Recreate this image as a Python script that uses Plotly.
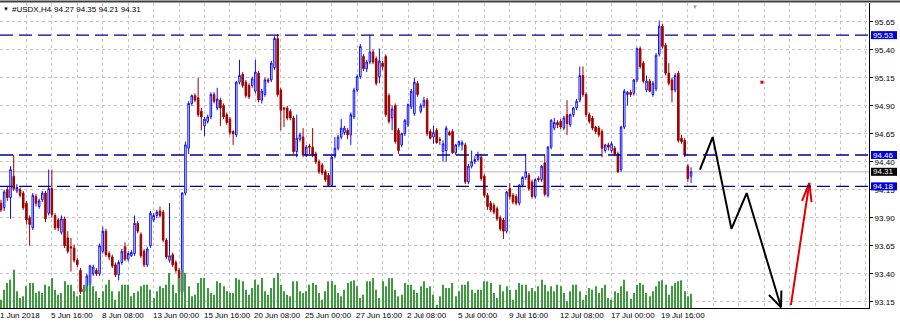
import plotly.graph_objects as go

# ---------------- data ----------------
open_ = [94.03, 93.99, 94.15, 94.08, 94.27, 94.14, 94.15, 94.12, 94.03, 93.90,
         93.81, 94.09, 94.00, 94.06, 94.12, 93.94, 94.16, 93.92, 93.88, 93.77,
         93.89, 93.72, 93.64, 93.63, 93.52, 93.43, 93.26, 93.24, 93.30, 93.40,
         93.43, 93.40, 93.60, 93.78, 93.58, 93.55, 93.48, 93.39, 93.50, 93.64,
         93.53, 93.56, 93.58, 93.85, 93.75, 93.60, 93.48, 93.65, 93.88, 93.92,
         93.96, 93.95, 93.70, 93.52, 93.57, 93.50, 93.43, 93.24, 94.12, 94.52,
         94.92, 94.99, 94.97, 94.85, 94.72, 94.76, 94.80, 95.00, 94.88, 94.95,
         94.90, 94.82, 94.78, 94.67, 94.64, 95.11, 95.18, 95.11, 95.08, 95.08,
         95.03, 95.19, 94.95, 95.00, 95.13, 95.13, 95.24, 95.50, 95.04, 94.88,
         94.88, 94.85, 94.79, 94.49, 94.60, 94.62, 94.46, 94.54, 94.53, 94.47,
         94.40, 94.37, 94.31, 94.28, 94.19, 94.45, 94.52, 94.62, 94.66, 94.68,
         94.64, 94.80, 95.04, 95.16, 95.34, 95.23, 95.29, 95.38, 95.32, 95.16,
         95.28, 95.34, 94.99, 94.79, 94.90, 94.68, 94.55, 94.65, 94.73, 94.89,
         94.83, 95.10, 94.85, 94.90, 94.95, 94.67, 94.62, 94.68, 94.60, 94.49,
         94.50, 94.66, 94.67, 94.48, 94.55, 94.55, 94.55, 94.22, 94.36, 94.40,
         94.42, 94.44, 94.27, 94.10, 94.03, 94.01, 93.98, 93.90, 93.88, 93.78,
         94.16, 94.10, 94.09, 94.03, 94.19, 94.26, 94.28, 94.22, 94.09, 94.25,
         94.24, 94.39, 94.10, 94.53, 94.70, 94.75, 94.76, 94.70, 94.82, 94.73,
         94.82, 94.88, 94.95, 95.17, 95.00, 94.82, 94.79, 94.71, 94.70, 94.67,
         94.50, 94.55, 94.50, 94.52, 94.47, 94.33, 94.71, 95.00, 95.02, 95.01,
         95.13, 95.41, 95.28, 95.04, 95.12, 95.00, 95.05, 95.36, 95.61, 95.44,
         95.19, 95.13, 95.04, 95.19, 94.61, 94.59, 94.36, 94.27]
high = [94.06, 94.15, 94.18, 94.36, 94.46, 94.20, 94.17, 94.14, 94.05, 93.92,
        94.12, 94.11, 94.07, 94.14, 94.14, 94.33, 94.33, 93.94, 93.90, 93.92,
        93.91, 93.78, 93.72, 93.66, 93.54, 93.45, 93.28, 93.40, 93.48, 93.48,
        93.45, 93.67, 93.82, 93.80, 93.60, 93.57, 93.50, 93.52, 93.62, 93.68,
        93.60, 93.61, 93.92, 93.87, 93.77, 93.62, 93.64, 93.96, 93.94, 93.97,
        94.00, 93.97, 93.72, 94.03, 93.59, 93.52, 93.45, 94.13, 94.58, 94.94,
        95.00, 95.01, 95.15, 94.88, 94.80, 94.82, 95.02, 95.02, 95.06, 94.97,
        94.92, 94.84, 94.80, 94.68, 95.12, 95.31, 95.20, 95.13, 95.10, 95.16,
        95.31, 95.21, 95.05, 95.15, 95.15, 95.30, 95.52, 95.54, 95.06, 94.89,
        94.90, 94.87, 94.81, 94.82, 94.66, 94.70, 94.55, 94.56, 94.70, 94.49,
        94.42, 94.39, 94.33, 94.30, 94.46, 94.62, 94.64, 94.78, 94.72, 94.70,
        94.84, 95.06, 95.18, 95.45, 95.36, 95.31, 95.53, 95.40, 95.34, 95.41,
        95.30, 95.36, 95.01, 94.90, 94.92, 94.70, 94.66, 94.78, 94.92, 95.05,
        95.15, 95.12, 94.92, 94.98, 94.97, 94.69, 94.72, 94.70, 94.62, 94.59,
        94.72, 94.68, 94.69, 94.56, 94.59, 94.59, 94.57, 94.38, 94.50, 94.45,
        94.49, 94.47, 94.29, 94.12, 94.05, 94.03, 94.00, 93.92, 93.90, 94.14,
        94.21, 94.12, 94.11, 94.20, 94.27, 94.47, 94.30, 94.24, 94.25, 94.27,
        94.37, 94.46, 94.54, 94.78, 94.79, 94.77, 94.78, 94.81, 94.95, 94.83,
        94.89, 94.96, 95.25, 95.25, 95.02, 94.84, 94.81, 94.72, 94.72, 94.69,
        94.56, 94.57, 94.58, 94.54, 94.49, 94.72, 95.05, 95.03, 95.04, 95.14,
        95.42, 95.43, 95.30, 95.17, 95.14, 95.12, 95.37, 95.66, 95.63, 95.46,
        95.28, 95.15, 95.19, 95.21, 94.64, 94.61, 94.38, 94.35]
low = [93.95, 93.96, 94.05, 93.89, 94.14, 94.12, 94.08, 93.97, 93.84, 93.65,
       93.79, 94.00, 93.98, 94.04, 93.86, 93.92, 93.90, 93.79, 93.78, 93.75,
       93.63, 93.58, 93.42, 93.50, 93.46, 93.22, 93.22, 93.22, 93.28, 93.38,
       93.38, 93.38, 93.58, 93.55, 93.52, 93.45, 93.37, 93.34, 93.48, 93.51,
       93.51, 93.55, 93.56, 93.76, 93.54, 93.46, 93.46, 93.63, 93.86, 93.90,
       93.90, 93.68, 93.53, 93.50, 93.46, 93.41, 93.22, 93.22, 94.10, 94.47,
       94.90, 94.93, 94.80, 94.68, 94.63, 94.74, 94.78, 94.92, 94.86, 94.72,
       94.78, 94.73, 94.64, 94.55, 94.62, 95.09, 95.06, 94.97, 94.96, 95.06,
       95.01, 94.93, 94.92, 94.98, 95.10, 95.11, 95.22, 94.98, 94.68, 94.71,
       94.77, 94.77, 94.47, 94.44, 94.58, 94.44, 94.44, 94.47, 94.44, 94.38,
       94.29, 94.28, 94.22, 94.18, 94.18, 94.43, 94.50, 94.60, 94.64, 94.60,
       94.55, 94.78, 95.02, 95.14, 95.21, 95.20, 95.27, 95.27, 95.08, 95.10,
       95.22, 94.80, 94.74, 94.68, 94.56, 94.47, 94.53, 94.63, 94.71, 94.87,
       94.81, 94.98, 94.83, 94.88, 94.63, 94.60, 94.56, 94.56, 94.55, 94.40,
       94.40, 94.63, 94.47, 94.46, 94.53, 94.50, 94.20, 94.20, 94.34, 94.38,
       94.40, 94.23, 94.08, 93.97, 93.95, 93.93, 93.87, 93.78, 93.71, 93.76,
       94.06, 94.02, 94.01, 94.01, 94.17, 94.24, 94.14, 94.07, 94.07, 94.22,
       94.22, 94.09, 94.08, 94.51, 94.68, 94.70, 94.69, 94.68, 94.64, 94.71,
       94.80, 94.86, 94.93, 94.98, 94.80, 94.74, 94.68, 94.65, 94.62, 94.44,
       94.48, 94.50, 94.48, 94.45, 94.30, 94.31, 94.69, 94.90, 94.98, 94.99,
       95.11, 95.23, 95.10, 95.02, 95.02, 94.98, 95.03, 95.34, 95.41, 95.17,
       95.08, 94.93, 95.02, 94.57, 94.56, 94.44, 94.22, 94.21]
close = [93.97, 94.13, 94.08, 94.33, 94.16, 94.17, 94.10, 93.99, 93.88, 93.84,
         94.10, 94.03, 94.05, 94.12, 93.89, 94.16, 93.93, 93.81, 93.81, 93.89,
         93.65, 93.60, 93.63, 93.52, 93.48, 93.24, 93.24, 93.38, 93.47, 93.46,
         93.40, 93.65, 93.78, 93.57, 93.55, 93.47, 93.39, 93.50, 93.60, 93.53,
         93.58, 93.59, 93.85, 93.78, 93.56, 93.48, 93.62, 93.94, 93.92, 93.95,
         93.92, 93.70, 93.55, 93.56, 93.48, 93.43, 93.24, 94.12, 94.55, 94.92,
         94.99, 94.95, 94.82, 94.80, 94.78, 94.80, 95.00, 94.94, 94.96, 94.88,
         94.80, 94.75, 94.66, 94.65, 95.11, 95.17, 95.08, 94.99, 94.98, 95.14,
         95.20, 94.95, 95.03, 95.13, 95.12, 95.28, 95.50, 95.00, 94.86, 94.87,
         94.79, 94.79, 94.49, 94.61, 94.64, 94.46, 94.53, 94.53, 94.46, 94.40,
         94.31, 94.30, 94.24, 94.19, 94.44, 94.52, 94.62, 94.70, 94.70, 94.64,
         94.82, 95.04, 95.16, 95.43, 95.23, 95.29, 95.38, 95.29, 95.10, 95.30,
         95.25, 94.82, 94.76, 94.87, 94.58, 94.50, 94.65, 94.77, 94.91, 95.03,
         95.11, 95.00, 94.90, 94.95, 94.65, 94.61, 94.66, 94.57, 94.59, 94.56,
         94.70, 94.64, 94.48, 94.55, 94.58, 94.57, 94.22, 94.36, 94.40, 94.42,
         94.45, 94.25, 94.10, 94.00, 93.97, 93.95, 93.89, 93.80, 93.78, 94.13,
         94.09, 94.04, 94.03, 94.19, 94.26, 94.31, 94.16, 94.09, 94.24, 94.24,
         94.36, 94.11, 94.53, 94.77, 94.75, 94.73, 94.71, 94.79, 94.74, 94.82,
         94.88, 94.94, 95.17, 95.00, 94.82, 94.76, 94.70, 94.67, 94.64, 94.52,
         94.55, 94.53, 94.56, 94.47, 94.31, 94.71, 95.03, 95.02, 95.00, 95.13,
         95.41, 95.25, 95.12, 95.12, 95.03, 95.10, 95.35, 95.61, 95.43, 95.19,
         95.10, 95.04, 95.17, 94.59, 94.58, 94.46, 94.25, 94.31]
volume = [25, 55, 75, 85, 115, 50, 30, 35, 65, 75,
          75, 45, 50, 45, 70, 65, 90, 55, 40, 45,
          80, 70, 70, 50, 35, 40, 70, 65, 75, 65,
          50, 30, 50, 70, 85, 50, 25, 50, 70, 70,
          70, 35, 45, 50, 65, 70, 70, 55, 30, 50,
          65, 60, 70, 105, 70, 45, 90, 115, 105, 65,
          35, 40, 75, 90, 90, 60, 45, 40, 80, 75,
          65, 50, 45, 45, 90, 85, 80, 55, 40, 60,
          85, 70, 90, 50, 40, 60, 90, 105, 70, 50,
          40, 35, 80, 80,
          50, 45, 50, 70, 75, 70, 45, 25, 50, 80,
          80, 70, 45, 35, 55, 75, 80, 83, 65, 30,
          40, 80, 80, 90, 55, 30, 80, 65, 90, 90,
          55, 35, 40, 75, 70, 70, 55, 45, 65, 80,
          60, 65, 40, 10, 35, 70, 60, 60, 75, 35,
          50, 70, 70, 80, 55, 45, 55, 55, 80, 80,
          75, 45, 30, 70, 50, 65, 55, 25, 55, 75,
          70, 70, 50, 60, 50, 65, 85, 70, 50, 65,
          50, 70, 65, 45, 20, 50, 70, 70, 50, 25,
          40, 60, 55, 65, 45,
          60, 70, 30, 25, 50, 45, 65, 85, 50, 28,
          45, 70, 75, 70, 45, 35, 50, 65, 80, 83,
          70, 40, 67, 75, 80, 83, 50, 35, 43]
bars = list(range(len(close)))

time_label_bars = [0, 16, 32, 48, 64, 80, 96, 112, 128, 144, 160, 176, 192, 208]
time_labels = ["1 Jun 2018", "5 Jun 16:00", "8 Jun 08:00", "13 Jun 00:00",
               "15 Jun 16:00", "20 Jun 08:00", "25 Jun 00:00", "27 Jun 16:00",
               "2 Jul 08:00", "5 Jul 00:00", "9 Jul 16:00", "12 Jul 08:00",
               "17 Jul 00:00", "19 Jul 16:00"]
grid_bars = [0, 8, 16, 24, 32, 40, 48, 56, 64, 72, 80, 88, 96, 104, 112, 120,
             128, 136, 144, 152, 160, 168, 176, 184, 192, 200, 208, 216, 224,
             232, 240, 248, 256, 264, 272]
price_ticks = [93.15, 93.40, 93.65, 93.90, 94.15, 94.40, 94.65, 94.90, 95.15, 95.40, 95.65]
level_prices = [95.53, 94.46, 94.18]
current_price = 94.31
title_symbol = "#USDX,H4"
title_ohlc = "94.27 94.35 94.21 94.31"

# hand-drawn forecast arrows (bar index, price)
black_path_bar = [219.8, 223.8, 229.7, 234.5, 245.3]
black_path_price = [94.33, 94.62, 93.80, 94.12, 93.10]
black_head_bar = [241.5, 245.3, 245.4]
black_head_price = [93.21, 93.10, 93.25]
red_path_bar = [248.4, 254.2]
red_path_price = [93.12, 94.21]
red_head_bar = [251.9, 254.2, 254.9]
red_head_price = [94.05, 94.21, 94.04]
dot_bar = [239.3]
dot_price = [95.11]

FONT = "Liberation Sans"
Y_RANGE = [93.094, 95.817]
PLOT_W, PLOT_H = 869, 305
PX_PER_PRICE = PLOT_H / (Y_RANGE[1] - Y_RANGE[0])

fig = go.Figure()

fig.add_trace(go.Bar(
    x=bars, y=volume, yaxis="y2", width=0.36,
    marker=dict(color="#3f9a3f", line=dict(width=0)),
    hoverinfo="skip", showlegend=False))

fig.add_trace(go.Candlestick(
    x=bars, open=open_, high=high, low=low, close=close,
    increasing=dict(line=dict(color="#1010f0", width=1), fillcolor="#ffffff"),
    decreasing=dict(line=dict(color="#9a0000", width=1), fillcolor="#a80000"),
    whiskerwidth=0, showlegend=False, hoverinfo="skip"))

for bx, py, col in [(black_path_bar, black_path_price, "#000000"),
                    (black_head_bar, black_head_price, "#000000"),
                    (red_path_bar, red_path_price, "#e00000"),
                    (red_head_bar, red_head_price, "#e00000")]:
    fig.add_trace(go.Scatter(x=bx, y=py, mode="lines",
                             line=dict(color=col, width=2),
                             cliponaxis=False, showlegend=False, hoverinfo="skip"))

fig.add_trace(go.Scatter(x=dot_bar, y=dot_price, mode="markers",
                         marker=dict(symbol="square", size=3, color="#e00000"),
                         showlegend=False, hoverinfo="skip"))

half_box = 4.0 / PX_PER_PRICE
bx0, bx1 = 871 / PLOT_W, 897 / PLOT_W

shapes = []
shapes.append(dict(type="line", xref="paper", yref="y", x0=0, x1=1,
                   y0=current_price, y1=current_price, layer="below",
                   line=dict(color="#b8b8b8", width=1)))
for lp in level_prices:
    shapes.append(dict(type="line", xref="paper", yref="y", x0=0, x1=1,
                       y0=lp, y1=lp, layer="above",
                       line=dict(color="#000090", width=1.4, dash="13px,6px")))
for lp, colr in [(p, "#0000dd") for p in level_prices] + [(current_price, "#000000")]:
    shapes.append(dict(type="rect", xref="paper", yref="y", x0=bx0, x1=bx1,
                       y0=lp - half_box, y1=lp + half_box, layer="above",
                       fillcolor=colr, line=dict(width=0)))
shapes.append(dict(type="line", xref="paper", yref="paper", x0=0, x1=900 / PLOT_W,
                   y0=1.005, y1=1.005, line=dict(color="#404040", width=2)))

annotations = []
for b, t in zip(time_label_bars, time_labels):
    annotations.append(dict(x=b, y=0, xref="x", yref="paper", text=t,
                            showarrow=False, xanchor="left", yanchor="top",
                            xshift=-3, yshift=-1,
                            font=dict(family=FONT, size=8, color="#000000")))
for lp in level_prices + [current_price]:
    annotations.append(dict(x=(bx0 + bx1) / 2, y=lp, xref="paper", yref="y",
                            text=f"{lp:.2f}", showarrow=False,
                            xanchor="center", yanchor="middle", borderpad=0,
                            font=dict(family=FONT, size=8, color="#ffffff")))
annotations.append(dict(x=0, y=1, xref="paper", yref="paper", text="▼",
                        showarrow=False, xanchor="left", yanchor="middle",
                        xshift=1, yshift=-6,
                        font=dict(family=FONT, size=6, color="#000000")))
annotations.append(dict(x=0, y=1, xref="paper", yref="paper", text=title_symbol,
                        showarrow=False, xanchor="left", yanchor="middle",
                        xshift=10, yshift=-6,
                        font=dict(family=FONT, size=8, color="#000000")))
annotations.append(dict(x=0, y=1, xref="paper", yref="paper", text=title_ohlc,
                        showarrow=False, xanchor="left", yanchor="middle",
                        xshift=52, yshift=-6,
                        font=dict(family=FONT, size=8, color="#000000")))
annotations.append(dict(x=695 / PLOT_W, y=1, xref="paper", yref="paper", text="▼",
                        showarrow=False, xanchor="center", yanchor="top",
                        yshift=1,
                        font=dict(family=FONT, size=6, color="#a0a0a0")))

fig.update_layout(
    width=900, height=323,
    margin=dict(l=0, r=31, t=3, b=15),
    paper_bgcolor="#ffffff", plot_bgcolor="#ffffff",
    showlegend=False, hovermode=False,
    xaxis=dict(range=[-0.31, 272.96], tickvals=grid_bars, showticklabels=False,
               showgrid=True, gridcolor="#c4c4c4", griddash="dot", gridwidth=1,
               showline=True, linecolor="#000000", linewidth=1,
               zeroline=False, ticks="", rangeslider=dict(visible=False),
               fixedrange=True),
    yaxis=dict(range=Y_RANGE, side="right", tickvals=price_ticks,
               ticktext=[f"{v:.2f}" for v in price_ticks],
               showgrid=True, gridcolor="#c4c4c4", griddash="dot", gridwidth=1,
               showline=True, linecolor="#000000", linewidth=1,
               ticks="outside", ticklen=3, tickcolor="#000000",
               tickfont=dict(family=FONT, size=8, color="#000000"),
               zeroline=False, fixedrange=True),
    yaxis2=dict(range=[0, 915], overlaying="y", visible=False, fixedrange=True),
    shapes=shapes,
    annotations=annotations,
)

fig.write_html("out.html")
